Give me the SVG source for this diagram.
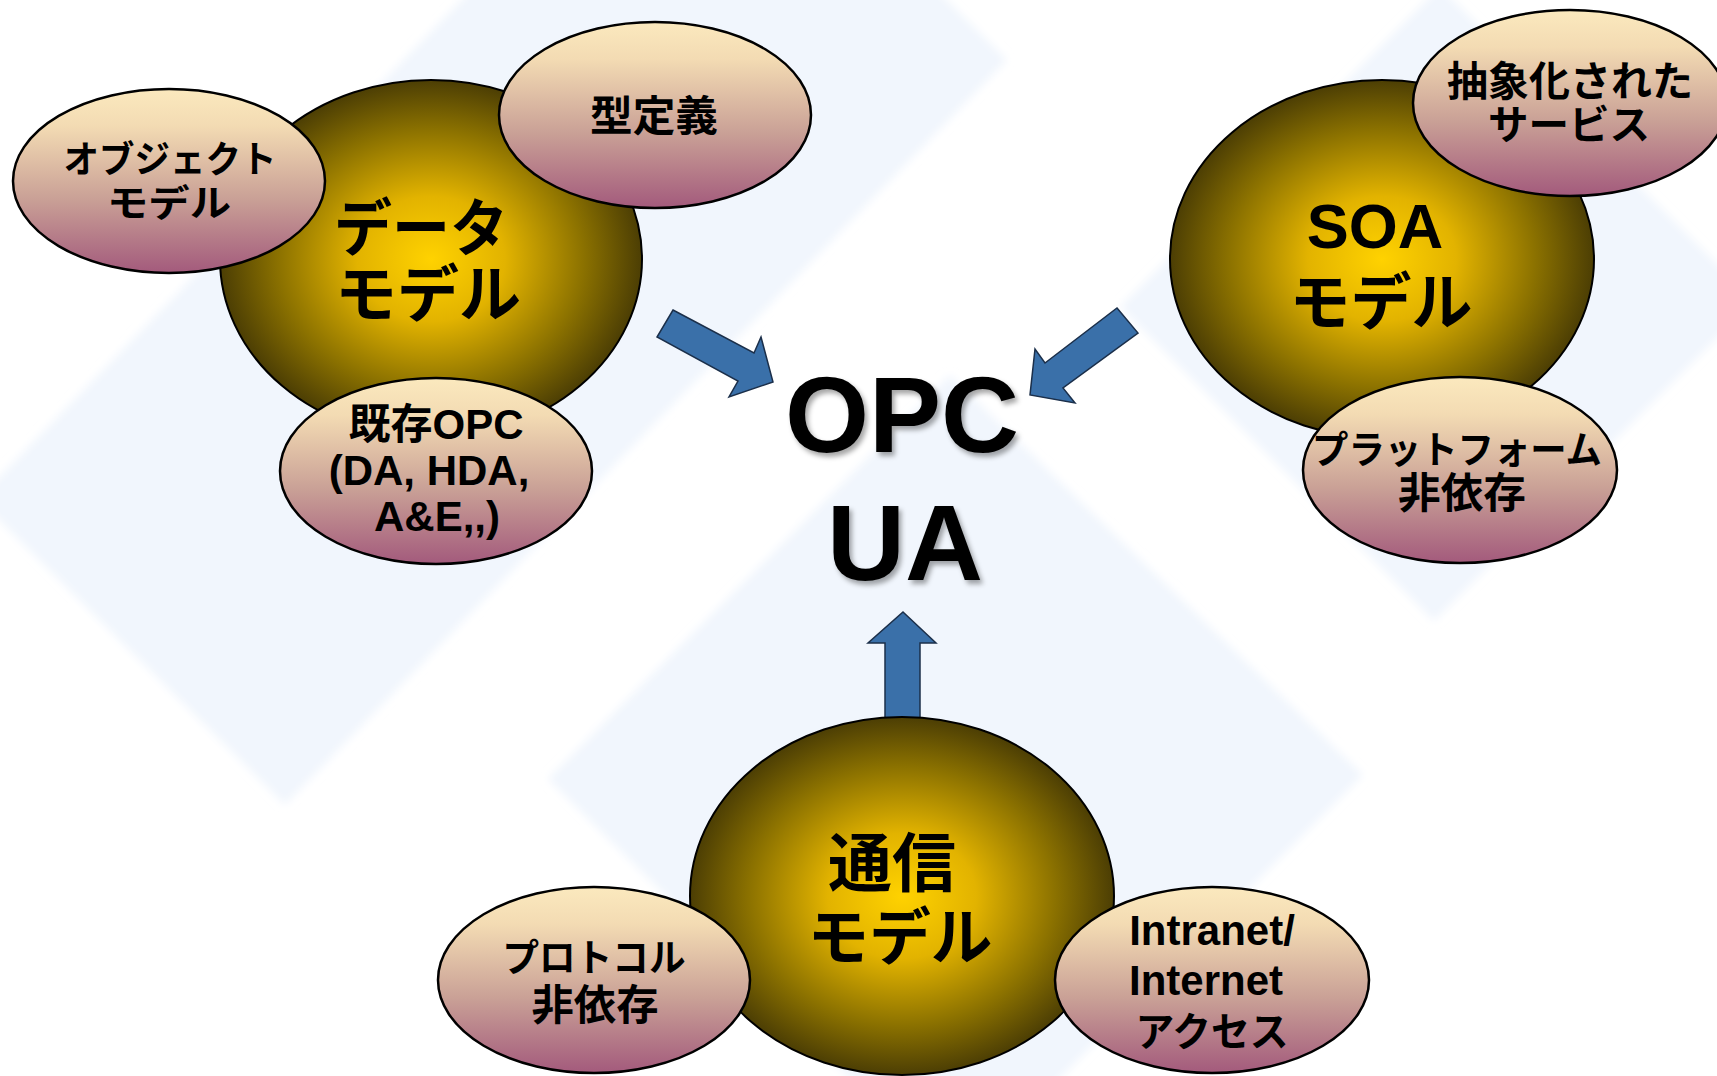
<svg xmlns="http://www.w3.org/2000/svg" width="1717" height="1076" viewBox="0 0 1717 1076">
<defs>
  <radialGradient id="gold" cx="0.5" cy="0.5" r="0.5">
    <stop offset="0" stop-color="#ffd200"/>
    <stop offset="0.35" stop-color="#e2b300"/>
    <stop offset="0.72" stop-color="#8c7200"/>
    <stop offset="1" stop-color="#4c3e04"/>
  </radialGradient>
  <linearGradient id="cream" x1="0" y1="0" x2="0" y2="1">
    <stop offset="0" stop-color="#fbe9be"/>
    <stop offset="0.2" stop-color="#f3dbb3"/>
    <stop offset="0.6" stop-color="#c9a096"/>
    <stop offset="1" stop-color="#a35a7c"/>
  </linearGradient>
  <filter id="shadow" x="-10%" y="-10%" width="130%" height="130%">
    <feDropShadow dx="3" dy="4" stdDeviation="2.5" flood-color="#000" flood-opacity="0.35"/>
  </filter>
  <filter id="soft" x="-5%" y="-5%" width="110%" height="110%">
    <feGaussianBlur stdDeviation="4"/>
  </filter>
</defs>
<style>
  .bg { fill: #f1f6fd; }
  .big { fill: url(#gold); stroke: #000; stroke-width: 2; }
  .small { fill: url(#cream); stroke: #000; stroke-width: 2.5; }
  .arrow { fill: #3a70a9; stroke: #1b2f4a; stroke-width: 1.5; stroke-linejoin: miter; }
  text { font-family: "Liberation Sans", "Noto Sans CJK JP", sans-serif; font-weight: bold; text-anchor: middle; fill: #000; }
  .b { font-size: 62px; }
  .t { font-size: 108px; }
</style>
<rect width="1717" height="1076" fill="#ffffff"/>
<g id="background" filter="url(#soft)">
  <polygon class="bg" points="700,-246 1007,60 285,805 -22,499"/>
  <polygon class="bg" points="950,375 1363,775 955,1183 548,779"/>
  <polygon class="bg" points="1440,-13 1754,301 1434,621 1120,307"/>
</g>
<g id="connectors">
  <polygon class="arrow" points="673,310 754,353 761,337 773,382 729,397 738,381 657,337"/>
  <polygon class="arrow" points="1117,308 1138,333 1063,388 1075,403 1030,395 1035,349 1045,363"/>
  <polygon class="arrow" points="903,612 936,643 920,643 920,720 885,720 885,643 868,643"/>
</g>
<g id="node-data-model">
  <ellipse class="big" cx="431" cy="259" rx="211" ry="179"/>
  <text class="b" x="421" y="251" textLength="174" lengthAdjust="spacingAndGlyphs">データ</text>
  <text class="b" x="428" y="317" textLength="186" lengthAdjust="spacingAndGlyphs">モデル</text>
</g>
<g id="node-object-model">
  <ellipse class="small" cx="169" cy="181" rx="156" ry="92"/>
  <text x="170" y="173" style="font-size:37px" textLength="213" lengthAdjust="spacingAndGlyphs">オブジェクト</text>
  <text x="169" y="217" style="font-size:37px" textLength="124" lengthAdjust="spacingAndGlyphs">モデル</text>
</g>
<g id="node-type-def">
  <ellipse class="small" cx="655" cy="115" rx="156" ry="93"/>
  <text x="654" y="131" style="font-size:42px" textLength="128" lengthAdjust="spacingAndGlyphs">型定義</text>
</g>
<g id="node-legacy-opc">
  <ellipse class="small" cx="436" cy="471" rx="156" ry="93"/>
  <text x="436" y="439" style="font-size:42px">既存OPC</text>
  <text x="429" y="485" style="font-size:42px">(DA, HDA,</text>
  <text x="437" y="531" style="font-size:42px">A&amp;E,,)</text>
</g>
<g id="node-soa-model">
  <ellipse class="big" cx="1382" cy="259" rx="212" ry="179"/>
  <text x="1375" y="248" style="font-size:63px">SOA</text>
  <text class="b" x="1381" y="325" textLength="183" lengthAdjust="spacingAndGlyphs">モデル</text>
</g>
<g id="node-abstract-service">
  <ellipse class="small" cx="1570" cy="103" rx="157" ry="93"/>
  <text x="1570" y="96" style="font-size:41px" textLength="246" lengthAdjust="spacingAndGlyphs">抽象化された</text>
  <text x="1569" y="139" style="font-size:40px" textLength="162" lengthAdjust="spacingAndGlyphs">サービス</text>
</g>
<g id="node-platform">
  <ellipse class="small" cx="1460" cy="470" rx="157" ry="93"/>
  <text x="1457" y="463" style="font-size:38px" textLength="290" lengthAdjust="spacingAndGlyphs">プラットフォーム</text>
  <text x="1462" y="508" style="font-size:42px" textLength="128" lengthAdjust="spacingAndGlyphs">非依存</text>
</g>
<g id="node-comm-model">
  <ellipse class="big" cx="902" cy="896" rx="212" ry="179"/>
  <text x="892" y="886" style="font-size:64px" textLength="128" lengthAdjust="spacingAndGlyphs">通信</text>
  <text class="b" x="900" y="960" textLength="185" lengthAdjust="spacingAndGlyphs">モデル</text>
</g>
<g id="node-protocol">
  <ellipse class="small" cx="594" cy="980" rx="156" ry="93"/>
  <text x="594" y="971" style="font-size:38px" textLength="183" lengthAdjust="spacingAndGlyphs">プロトコル</text>
  <text x="595" y="1020" style="font-size:42px" textLength="127" lengthAdjust="spacingAndGlyphs">非依存</text>
</g>
<g id="node-internet">
  <ellipse class="small" cx="1212" cy="980" rx="157" ry="93"/>
  <text x="1212" y="945" style="font-size:42px">Intranet/</text>
  <text x="1206" y="995" style="font-size:42px">Internet</text>
  <text x="1212" y="1046" style="font-size:40px" textLength="153" lengthAdjust="spacingAndGlyphs">アクセス</text>
</g>
<g id="node-opc-ua" filter="url(#shadow)">
  <text class="t" x="902" y="452">OPC</text>
  <text class="t" x="905" y="580">UA</text>
</g>
</svg>
